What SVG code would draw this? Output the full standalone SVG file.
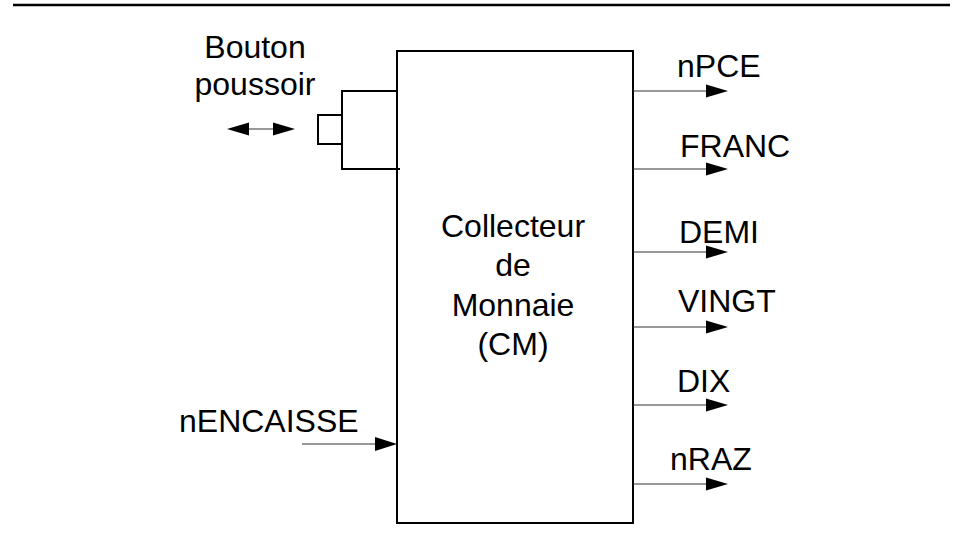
<svg xmlns="http://www.w3.org/2000/svg" width="956" height="538" viewBox="0 0 956 538">
<style>
text{font-family:"Liberation Sans",Arial,sans-serif;font-size:32px;fill:#000}
.box{fill:none;stroke:#000;stroke-width:2}
.wire{stroke:#333;stroke-width:1.2;fill:none}
.head{fill:#000}
</style>
<rect width="956" height="538" fill="#fff"/>
<line x1="13" y1="5" x2="950" y2="5" stroke="#000" stroke-width="2.5"/>
<g id="cm">
<rect class="box" x="397" y="51" width="236" height="472"/>
<text x="513" y="237" text-anchor="middle">Collecteur</text>
<text x="513" y="276" text-anchor="middle">de</text>
<text x="513" y="316" text-anchor="middle">Monnaie</text>
<text x="513" y="355" text-anchor="middle">(CM)</text>
</g>
<g id="bouton">
<path class="box" d="M397,91 H342 V169 H400"/>
<rect class="box" x="318" y="115" width="24" height="29"/>
<text x="255" y="58" text-anchor="middle">Bouton</text>
<text x="255" y="95" text-anchor="middle">poussoir</text>
<line x1="245" y1="129" x2="277" y2="129" stroke="#777" stroke-width="1.5"/>
<polygon class="head" points="227,129 249,122.5 249,135.5"/>
<polygon class="head" points="295,129 273,122.5 273,135.5"/>
</g>
<g id="connectors">
<line class="wire" x1="302" y1="444" x2="377" y2="444"/>
<polygon class="head" points="397,444 375,437 375,451"/>
<line class="wire" x1="633" y1="91" x2="708" y2="91"/>
<polygon class="head" points="728,91 706,84.5 706,97.5"/>
<line class="wire" x1="633" y1="169" x2="708" y2="169"/>
<polygon class="head" points="728,169 706,162.5 706,175.5"/>
<line class="wire" x1="633" y1="252" x2="708" y2="252"/>
<polygon class="head" points="728,252 706,245.5 706,258.5"/>
<line class="wire" x1="633" y1="327" x2="708" y2="327"/>
<polygon class="head" points="728,327 706,320.5 706,333.5"/>
<line class="wire" x1="633" y1="405" x2="708" y2="405"/>
<polygon class="head" points="728,405 706,398.5 706,411.5"/>
<line class="wire" x1="633" y1="484" x2="708" y2="484"/>
<polygon class="head" points="728,484 706,477.5 706,490.5"/>
</g>
<g id="labels">
<text x="179" y="432">nENCAISSE</text>
<text x="677" y="77">nPCE</text>
<text x="680" y="157">FRANC</text>
<text x="679" y="243">DEMI</text>
<text x="678" y="312">VINGT</text>
<text x="677" y="392">DIX</text>
<text x="670" y="470">nRAZ</text>
</g>
</svg>
